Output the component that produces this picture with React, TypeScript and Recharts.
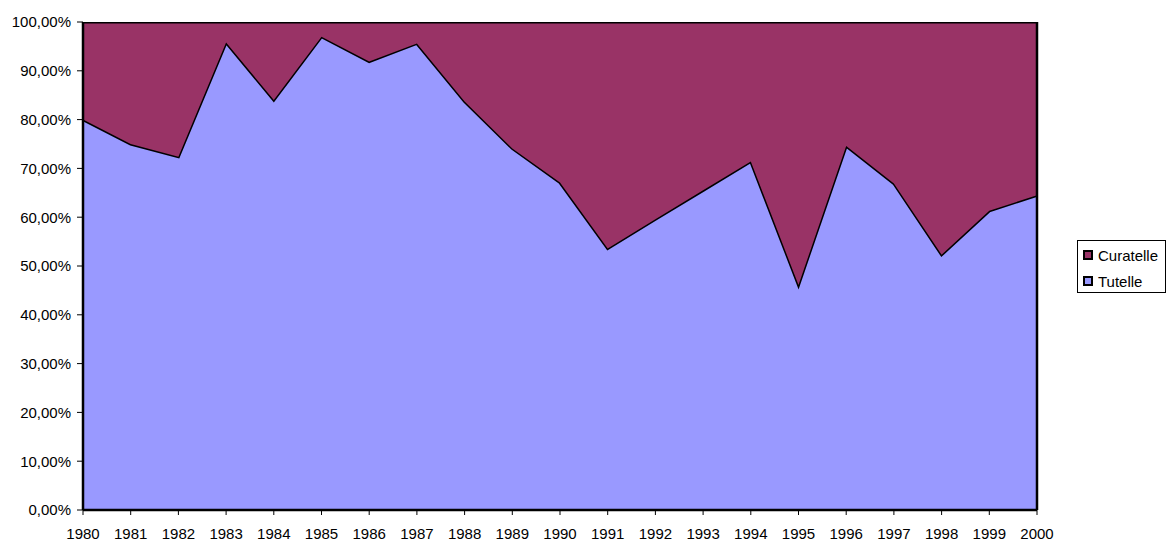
import { Area, AreaChart, XAxis, YAxis, ReferenceLine } from "recharts"

const years = ["1980", "1981", "1982", "1983", "1984", "1985", "1986", "1987", "1988", "1989", "1990",
  "1991", "1992", "1993", "1994", "1995", "1996", "1997", "1998", "1999", "2000"]
const tutelle = [80.0, 75.0, 72.4, 95.8, 84.0, 97.0, 91.9, 95.6, 83.7, 74.1, 67.1,
  53.6, 59.6, 65.5, 71.4, 46.1, 74.6, 66.9, 52.3, 61.3, 64.5]
const curatelle = [20.0, 25.0, 27.6, 4.2, 16.0, 3.0, 8.1, 4.4, 16.3, 25.9, 32.9,
  46.4, 40.4, 34.5, 28.6, 53.9, 25.4, 33.1, 47.7, 38.7, 35.5]
const yTicks = [0, 10, 20, 30, 40, 50, 60, 70, 80, 90, 100]

const data = years.map((y, i) => ({ year: y, tutelle: tutelle[i], curatelle: curatelle[i] }))

const font = "Arial, 'Liberation Sans', sans-serif"

// legend, top entry first like the original
const legendItems = [
  { label: "Curatelle", color: "#993366" },
  { label: "Tutelle", color: "#9999FF" },
]

function LegendBox() {
  return (
    <div style={{
      position: "absolute", left: 1077, top: 240, width: 89, height: 53, border: "1px solid #000", background: "#fff",
      padding: "1px 0 0 5px", fontFamily: font, fontSize: 15, color: "#000", boxSizing: "border-box",
    }}>
      {legendItems.map(it => (
        <div key={it.label} style={{ display: "flex", alignItems: "center", height: 26 }}>
          <span style={{ width: 6, height: 6, background: it.color, border: "2px solid #000", marginRight: 5, flex: "none" }} />
          <span>{it.label}</span>
        </div>
      ))}
    </div>
  )
}

export default function App() {
  return (
    <div style={{ position: "absolute", left: 0, top: 0, width: 1167, height: 541, background: "#fff" }}>
      <AreaChart width={1167} height={541} data={data} margin={{ top: 22, right: 130, left: 0, bottom: 6 }}>
        <XAxis
          dataKey="year"
          tick={{ fontSize: 15, fill: "#000", fontFamily: font }}
          axisLine={{ stroke: "#000", strokeWidth: 2.5 }}
          tickLine={{ stroke: "#000" }}
          tickSize={5}
          tickMargin={13}
          height={25}
          interval={0}
        />
        <YAxis
          domain={[0, 100]}
          ticks={yTicks}
          tickFormatter={(v: number) => v.toFixed(2).replace(".", ",") + "%"}
          tick={{ fontSize: 15, fill: "#000", fontFamily: font }}
          axisLine={{ stroke: "#000", strokeWidth: 2.5 }}
          tickLine={{ stroke: "#000" }}
          tickSize={6}
          tickMargin={6}
          width={83}
          allowDataOverflow
        />
        <Area type="linear" dataKey="tutelle" stackId="1" stroke="#000" strokeWidth={3} fill="#9999FF" fillOpacity={1} isAnimationActive={false} />
        <Area type="linear" dataKey="curatelle" stackId="1" stroke="#000" strokeWidth={3} fill="#993366" fillOpacity={1} isAnimationActive={false} />
        <ReferenceLine x="2000" stroke="#000" strokeWidth={2.5} />
      </AreaChart>
      <LegendBox />
    </div>
  )
}
